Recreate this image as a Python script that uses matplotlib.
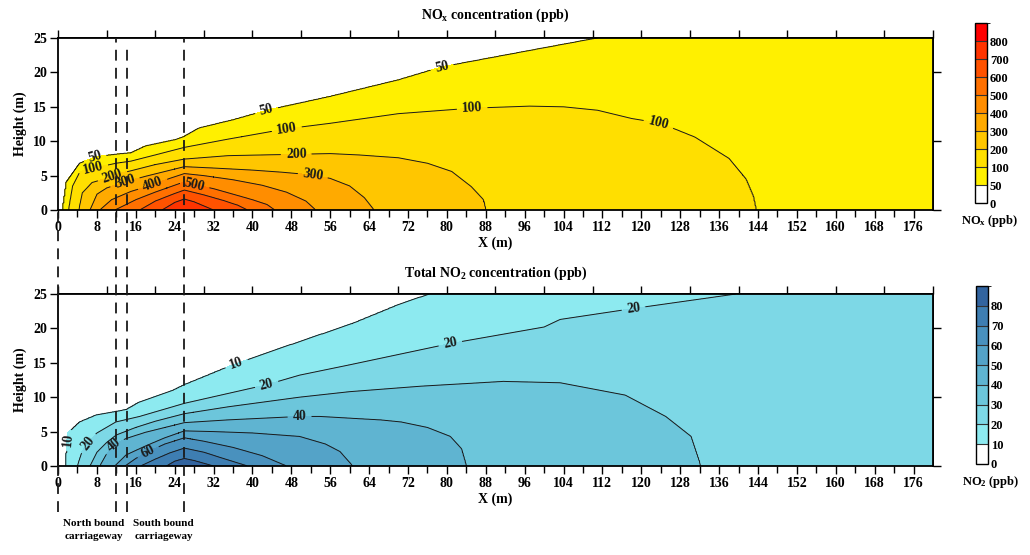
import numpy as np
import matplotlib as mpl
import matplotlib.pyplot as plt
from matplotlib.colors import ListedColormap, BoundaryNorm
from matplotlib.lines import Line2D
import matplotlib.transforms as mtransforms

mpl.use('Agg')
plt.rcParams['font.family'] = 'Liberation Serif'
plt.rcParams['font.weight'] = 'bold'
plt.rcParams['mathtext.fontset'] = 'custom'
plt.rcParams['mathtext.rm'] = 'Liberation Serif:bold'
plt.rcParams['mathtext.it'] = 'Liberation Serif:bold'
plt.rcParams['mathtext.bf'] = 'Liberation Serif:bold'

#~~~~~~~~~~ NOx panel: height (m) of each contour along X (m) ~~~~~~~~~~~#
nox_levels = [50, 100, 200, 300, 400, 500, 600, 700]
nox_50_x = [1.0, 1.8, 4.5, 7.9, 12, 15, 18, 24, 26, 29, 36, 43, 56, 70, 79, 98, 111, 140, 180]
nox_50_h = [0, 4.1, 6.8, 7.75, 8.1, 8.3, 9.3, 10.2, 10.7, 11.9, 13.1, 14.5, 16.5, 18.9, 20.8, 23.3, 25, 28, 32]
nox_100_x = [2.2, 3.0, 4.5, 8, 12, 15, 20, 26, 35, 47, 56, 70, 85, 97, 104, 111, 118, 124, 131, 138, 141.5, 143, 143.6]
nox_100_h = [0, 3.5, 5.6, 6.2, 6.8, 7.1, 8.0, 9.1, 10.3, 11.8, 12.6, 14.0, 14.8, 15.1, 15.0, 14.5, 13.3, 12.6, 10.6, 7.5, 4.5, 2.0, 0]
nox_200_x = [4.3, 5, 7, 10, 12, 15, 20, 26, 35, 49, 56, 62, 70, 76, 81, 85, 87.5, 88]
nox_200_h = [0, 2.5, 4.0, 4.6, 5.2, 5.7, 6.6, 7.4, 7.9, 8.1, 8.2, 8.0, 7.6, 6.8, 5.6, 3.4, 1.5, 0]
nox_300_x = [6.6, 8, 10, 13.8, 18, 22, 26, 32, 40, 46, 52.4, 56, 60, 63, 65]
nox_300_h = [0, 2.3, 3.2, 4.1, 4.9, 5.6, 6.3, 6.1, 5.8, 5.5, 5.1, 4.6, 3.5, 1.8, 0]
nox_400_x = [8.6, 11, 15, 19.2, 23, 26, 30, 36, 42, 47, 51, 53]
nox_400_h = [0, 1.5, 2.7, 3.6, 4.6, 5.3, 5.0, 4.4, 3.6, 2.6, 1.3, 0]
nox_500_x = [11.7, 16, 20, 24, 26, 28, 32, 36, 40, 43, 44.6]
nox_500_h = [0, 1.5, 2.6, 3.6, 4.1, 3.7, 3.1, 2.3, 1.5, 0.8, 0]
nox_600_x = [16.8, 20, 24, 26, 30, 34, 37, 39]
nox_600_h = [0, 1.3, 2.4, 2.9, 2.2, 1.4, 0.7, 0]
nox_700_x = [21.4, 24, 26, 28, 30, 32]
nox_700_h = [0, 1.1, 1.6, 1.2, 0.6, 0]
nox_peak = 760
nox_bounds = [0, 50, 100, 200, 300, 400, 500, 600, 700, 800, 900]
nox_colors = ['#ffffff', '#fff000', '#ffdf00', '#ffc600', '#ffaa00', '#ff8d00',
              '#ff7000', '#ff5200', '#ff3400', '#ff0000']
nox_label_pos = [(42.9, 14.3), (79, 20.3), (7.6, 7.6), (47, 11.9), (85.2, 14.8),
                 (123.6, 12.7), (7.3, 5.8), (11.4, 4.6), (49, 8.1), (13.8, 4.0),
                 (52.4, 5.1), (19.6, 3.5), (28.1, 3.8)]

#~~~~~~~~~~ NO2 panel ~~~~~~~~~~~#
no2_levels = [10, 20, 30, 40, 50, 60, 70, 80]
no2_10_x = [1.6, 2.1, 4.5, 7.9, 11.9, 14.1, 16.8, 23.7, 26, 30.5, 36, 44.9, 60.6, 70.6, 76.5, 100, 140, 180]
no2_10_h = [0, 4.8, 6.4, 7.4, 7.9, 8.2, 9.3, 11.0, 11.8, 13.1, 14.7, 16.9, 20.7, 23.6, 25, 29, 34, 39]
no2_20_x = [4.0, 5, 6.2, 7.9, 11.9, 16.8, 26, 42.9, 49.7, 60, 80.7, 100, 103.3, 118.4, 139.4, 160, 180]
no2_20_h = [0, 2.2, 3.3, 4.75, 6.4, 7.2, 9.1, 11.8, 13.2, 14.7, 17.8, 20.2, 21.3, 22.9, 25, 27, 29]
no2_30_x = [6.6, 8, 10, 12, 16, 20, 26, 35, 49.7, 60, 74.7, 91.6, 103.3, 116.7, 125, 130.2, 132.2]
no2_30_h = [0, 2.0, 3.4, 4.5, 5.6, 6.5, 7.6, 8.6, 10.0, 10.8, 11.6, 12.3, 12.1, 10.3, 7.2, 4.3, 0]
no2_40_x = [8.6, 10, 11.4, 14, 18, 22, 26, 35, 49.7, 53.9, 66.4, 70.6, 76, 80.7, 83, 84]
no2_40_h = [0, 1.8, 3.05, 4.0, 4.9, 5.6, 6.3, 6.7, 7.2, 7.2, 6.7, 6.4, 5.6, 4.3, 2.5, 0]
no2_50_x = [11.7, 14, 18, 22, 26, 32, 40, 49.7, 55, 58, 60.6]
no2_50_h = [0, 1.6, 2.9, 4.1, 5.1, 5.0, 4.8, 4.3, 3.2, 2.1, 0]
no2_60_x = [13.8, 16, 18.5, 22, 26, 30, 36, 42, 47]
no2_60_h = [0, 1.1, 2.1, 3.2, 4.1, 3.6, 2.7, 1.5, 0]
no2_70_x = [17, 20, 23, 26, 30, 34, 39]
no2_70_h = [0, 1.0, 1.9, 2.6, 2.0, 1.1, 0]
no2_80_x = [22.3, 24, 26, 28, 30, 32]
no2_80_h = [0, 0.7, 1.1, 0.8, 0.4, 0]
no2_peak = 85
no2_bounds = [0, 10, 20, 30, 40, 50, 60, 70, 80, 90]
no2_colors = ['#ffffff', '#8deaf0', '#7dd8e6', '#6cc6db', '#5fb4d1', '#54a3c8',
              '#4991be', '#3e7eb2', '#32649f']
no2_label_pos = [(2.8, 3.5), (36.8, 14.7), (6.2, 3.3), (42.9, 11.9), (80.7, 17.8),
                 (118.4, 22.9), (11.4, 3.05), (49.7, 7.2), (18.5, 2.1)]

# road layout
road_lines = [12, 14.2, 26]


def buildField(levels, profiles, peak, xg, zg):
    F = np.empty((len(zg), len(xg)))
    for j, x in enumerate(xg):
        h = [np.interp(x, px, pz, left=-2.0, right=-2.0) for px, pz in profiles]
        n = 0
        while n < len(h) and h[n] > 0:
            n += 1
        hs = h[:n]
        for i in range(1, n):
            hs[i] = min(hs[i], hs[i - 1] - 0.05)
        vals = list(levels[:n])
        if n < len(levels):
            bottom = (min(h[n], -0.3), levels[n])
        else:
            bottom = (-1.0, peak)
        zs = [bottom[0]] + hs[::-1] + [1000.0]
        vs = [bottom[1]] + vals[::-1] + [0.0]
        F[:, j] = np.interp(zg, zs, vs)
    return F


def drawPanel(ax, cax, levels, profiles, peak, bounds, colors, label_pos, title, cb_label, tpad):
    xg = np.linspace(0, 180, 901)
    zg = np.linspace(0, 25, 501)
    F = buildField(levels, profiles, peak, xg, zg)
    cmap = ListedColormap(colors)
    norm = BoundaryNorm(bounds, cmap.N)
    ax.contourf(xg, zg, F, levels=bounds, cmap=cmap, norm=norm)
    cs = ax.contour(xg, zg, F, levels=levels, colors='#1a1a1a', linewidths=0.7)
    ax.clabel(cs, manual=label_pos, inline=True, fmt='%d', fontsize=10)

    ax.set_xlim(0, 180)
    ax.set_ylim(0, 25)
    ax.set_xticks(np.arange(0, 177, 8))
    ax.set_xticks(np.arange(0, 180, 4), minor=True)
    ax.set_yticks(np.arange(0, 26, 5))
    ax.tick_params(axis='both', which='major', direction='out', length=6, width=1, labelsize=10, pad=2)
    ax.tick_params(axis='x', which='minor', direction='out', length=5, width=1)
    for s in ax.spines.values():
        s.set_linewidth(1.3)
    ax.set_xlabel('X (m)', fontsize=10, fontweight='bold', labelpad=2)
    ax.set_ylabel('Height (m)', fontsize=10, fontweight='bold', labelpad=4)
    ax.set_title(title, fontsize=10, fontweight='bold', pad=tpad)

    top = ax.secondary_xaxis('top')
    top.set_xticks(np.arange(0, 181, 10))
    top.tick_params(direction='out', length=6, width=1, labeltop=False)
    top.spines['top'].set_linewidth(1.3)
    right = ax.secondary_yaxis('right')
    right.set_yticks([0, 10, 20])
    right.tick_params(direction='out', length=6, width=1, labelright=False)
    right.spines['right'].set_linewidth(1.3)

    sm = mpl.cm.ScalarMappable(norm=norm, cmap=cmap)
    cb = plt.colorbar(sm, cax=cax, boundaries=bounds, ticks=bounds[:-1],
                      spacing='uniform', drawedges=True)
    cb.outline.set_linewidth(1.0)
    cb.dividers.set_color('#333333')
    cb.dividers.set_linewidth(0.8)
    cb.ax.tick_params(length=0, labelsize=9, pad=2)
    pos = cax.get_position()
    fig.text(pos.x0 + pos.width / 2 + 0.008, pos.y0 - 0.033, cb_label, ha='center', va='center',
             fontsize=9, fontweight='bold')


fig = plt.figure(figsize=(10.3, 5.55), dpi=100)
ax1 = fig.add_axes([0.0563, 0.6216, 0.8495, 0.3099])
ax2 = fig.add_axes([0.0563, 0.1604, 0.8495, 0.3099])
cax1 = fig.add_axes([0.9466, 0.6342, 0.0117, 0.3243])
cax2 = fig.add_axes([0.9476, 0.1640, 0.0117, 0.3207])

nox_profiles = [(nox_50_x, nox_50_h), (nox_100_x, nox_100_h), (nox_200_x, nox_200_h),
                (nox_300_x, nox_300_h), (nox_400_x, nox_400_h), (nox_500_x, nox_500_h),
                (nox_600_x, nox_600_h), (nox_700_x, nox_700_h)]
no2_profiles = [(no2_10_x, no2_10_h), (no2_20_x, no2_20_h), (no2_30_x, no2_30_h),
                (no2_40_x, no2_40_h), (no2_50_x, no2_50_h), (no2_60_x, no2_60_h),
                (no2_70_x, no2_70_h), (no2_80_x, no2_80_h)]

drawPanel(ax1, cax1, nox_levels, nox_profiles, nox_peak, nox_bounds, nox_colors,
          nox_label_pos, r'NO$_\mathrm{x}$ concentration (ppb)', r'NO$_\mathrm{x}$ (ppb)', 14)
drawPanel(ax2, cax2, no2_levels, no2_profiles, no2_peak, no2_bounds, no2_colors,
          no2_label_pos, r'Total NO$_\mathrm{2}$ concentration (ppb)', r'NO$_\mathrm{2}$ (ppb)', 12)

# dashed lines marking the carriageways, running through both panels
trans = mtransforms.blended_transform_factory(ax1.transData, fig.transFigure)
y_top = 1 - 38 / 555
y_bot = 1 - 512 / 555
for xr in road_lines:
    yt = y_top if xr != 14.2 else 1 - 47 / 555
    fig.add_artist(Line2D([xr, xr], [y_bot, yt], transform=trans, color='#1a1a1a',
                          lw=1.3, linestyle=(0, (6, 4)), clip_on=False, zorder=10))
fig.add_artist(Line2D([0, 0], [y_bot, 1 - 212 / 555], transform=trans, color='#1a1a1a',
                      lw=1.3, linestyle=(0, (6, 4)), clip_on=False, zorder=10))

trans2 = mtransforms.blended_transform_factory(ax2.transData, fig.transFigure)
fig.text(7.3, 1 - 530 / 555, 'North bound\ncarriageway', transform=trans2, ha='center',
         va='center', fontsize=8, fontweight='bold', linespacing=1.6)
fig.text(21.7, 1 - 530 / 555, 'South bound\ncarriageway', transform=trans2, ha='center',
         va='center', fontsize=8, fontweight='bold', linespacing=1.6)

fig.savefig('out.png', dpi=100, facecolor='white')
